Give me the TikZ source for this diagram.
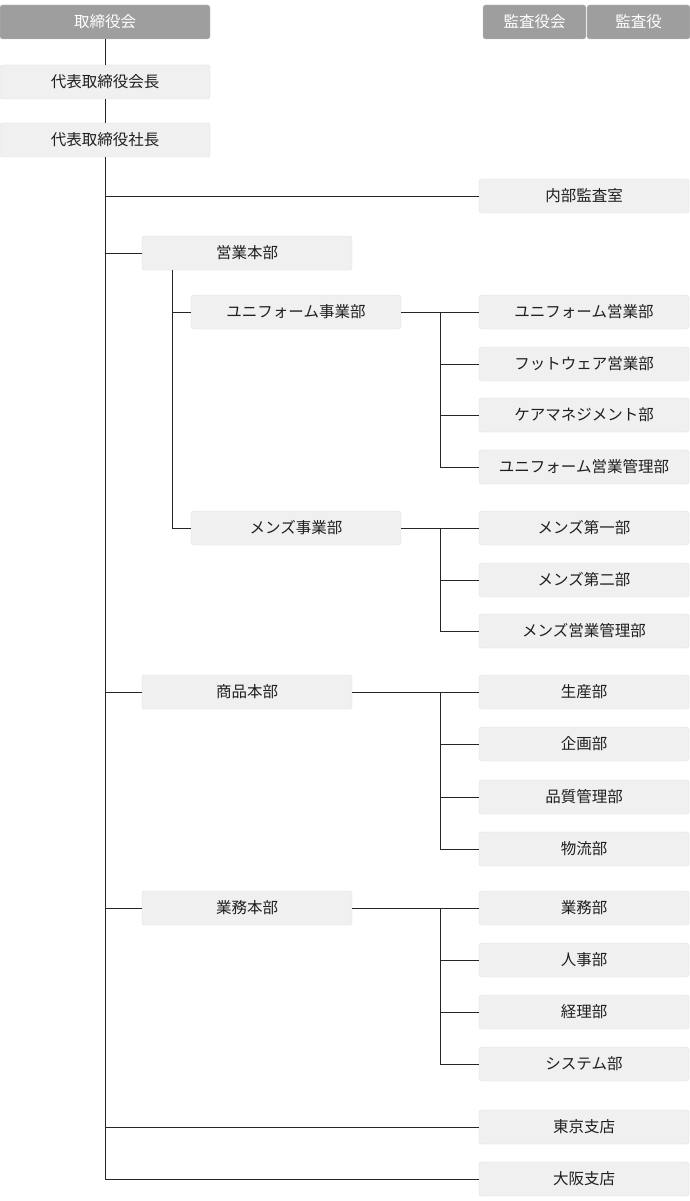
\documentclass[tikz,border=0pt]{standalone}
\usepackage{fontspec}
\setmainfont{Noto Sans CJK JP}
\begin{document}
\begin{tikzpicture}[x=1pt,y=-1pt,
 bx/.style={draw=black!13,fill=black!6,rounded corners=2.5pt,minimum width=210pt,minimum height=34pt,inner sep=0pt,font=\fontsize{15.5}{15.5}\selectfont,text=black!88},
 dk/.style={bx,fill=black!38,draw=black!25,text=white},
 ln/.style={draw=black!85,line width=0.9pt}]
\useasboundingbox (0,0) rectangle (690,1201);
\node[dk] (tb) at (105,22) {取締役会};
\node[dk,minimum width=103pt] (ka) at (534.5,22) {監査役会};
\node[dk,minimum width=103pt] (kb) at (638.5,22) {監査役};
\node[bx] (kc) at (105,82) {代表取締役会長};
\node[bx] (sc) at (105,140) {代表取締役社長};
\coordinate (bot) at (105,1179);
\draw[ln] (tb) -- (kc); \draw[ln] (kc) -- (sc);
\draw[ln] (sc.south) -- (bot);
\foreach \n/\t/\y in {nb/内部監査室/196, tk/東京支店/1127, os/大阪支店/1179}{
 \node[bx] (\n) at (584,\y) {\t};
 \draw[ln] (105,\y) -- (\n.west);}
\node[bx] (eh) at (247,253) {営業本部};
\draw[ln] (105,253) -- (eh.west);
\coordinate (ehb) at (172,528);
\draw[ln] (172,270) -- (ehb);
\node[bx] (uj) at (296,312) {ユニフォーム事業部};
\node[bx] (mj) at (296,528) {メンズ事業部};
\draw[ln] (172,312) -- (uj.west); \draw[ln] (ehb) -- (mj.west);
\node[bx] (sh) at (247,692) {商品本部};
\node[bx] (gh) at (247,908) {業務本部};
\draw[ln] (105,692) -- (sh.west); \draw[ln] (105,908) -- (gh.west);
% groups
\foreach \p/\py/\list/\last in {uj/312/{312/ユニフォーム営業部,364/フットウェア営業部,415/ケアマネジメント部,467/ユニフォーム営業管理部}/467,
 mj/528/{528/メンズ第一部,580/メンズ第二部,631/メンズ営業管理部}/631,
 sh/692/{692/生産部,744/企画部,797/品質管理部,849/物流部}/849,
 gh/908/{908/業務部,960/人事部,1012/経理部,1064/システム部}/1064}{
 \draw[ln] (\p.east) -- (440,\py);
 \draw[ln] (440,\py) -- (440,\last);
 \foreach \y/\t in \list {
  \node[bx] (n\y) at (584,\y) {\t};
  \draw[ln] (440,\y) -- (n\y.west);}}
\end{tikzpicture}
\end{document}
